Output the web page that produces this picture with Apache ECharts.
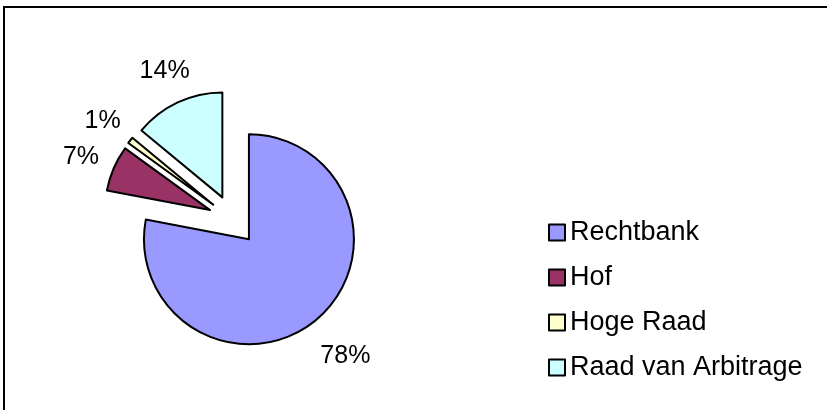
<!DOCTYPE html>
<html>
<head>
<meta charset="utf-8">
<title>Verdeling</title>
<script src="https://cdn.jsdelivr.net/npm/echarts@6/dist/echarts.min.js"></script>
<style>
    html, body { margin: 0; padding: 0; background: #fff; }
    #main { width: 827px; height: 410px; }
</style>
</head>
<body>
<div id="main"></div>
<script>
    // data
    var categories = ['Rechtbank', 'Hof', 'Hoge Raad', 'Raad van Arbitrage'];
    var shares = [78, 7, 1, 14];

    var colors = ['#9999FF', '#993366', '#FFFFCC', '#CCFFFF'];
    var font = "'Liberation Sans', Arial, sans-serif";

    var chart = echarts.init(document.getElementById('main'));

    var pieData = categories.map(function (name, i) {
        return { name: name, value: shares[i], selected: true, itemStyle: { color: colors[i] } };
    });
    // zelfde stukken, onzichtbaar, alleen voor de percentages buiten de taart
    var labelData = categories.map(function (name, i) {
        return { name: name, value: shares[i], selected: true };
    });

    var option = {
        animation: false,
        graphic: [{
            type: 'rect',
            shape: { x: 4, y: 7, width: 900, height: 500 },
            style: { fill: 'none', stroke: '#000', lineWidth: 2 },
            silent: true
        }],
        legend: {
            orient: 'vertical',
            left: 548,
            top: 219,
            padding: 0,
            itemWidth: 16,
            itemHeight: 16,
            itemGap: 18,
            icon: 'rect',
            data: categories,
            textStyle: { fontFamily: font, fontSize: 27, color: '#000', lineHeight: 27 }
        },
        series: [{
            name: 'Verdeling',
            type: 'pie',
            center: [233, 220],
            radius: 105,
            startAngle: 90,
            clockwise: true,
            selectedMode: 'multiple',
            selectedOffset: 25,
            avoidLabelOverlap: false,
            label: { show: false },
            labelLine: { show: false },
            emphasis: { disabled: true },
            itemStyle: { borderColor: '#000', borderWidth: 2 },
            data: pieData
        }, {
            name: 'labels',
            type: 'pie',
            center: [237, 225],
            radius: [130, 154],
            startAngle: 90,
            clockwise: true,
            selectedMode: 'multiple',
            selectedOffset: 25,
            silent: true,
            avoidLabelOverlap: false,
            emphasis: { disabled: true },
            itemStyle: { color: 'rgba(0,0,0,0)', borderWidth: 0 },
            label: {
                show: true,
                position: 'inside',
                formatter: function (p) { return p.value + '%'; },
                fontFamily: font,
                fontSize: 25,
                color: '#000'
            },
            labelLine: { show: false },
            data: labelData
        }]
    };
    chart.setOption(option);
    window.addEventListener('resize', chart.resize);
</script>
</body>
</html>
